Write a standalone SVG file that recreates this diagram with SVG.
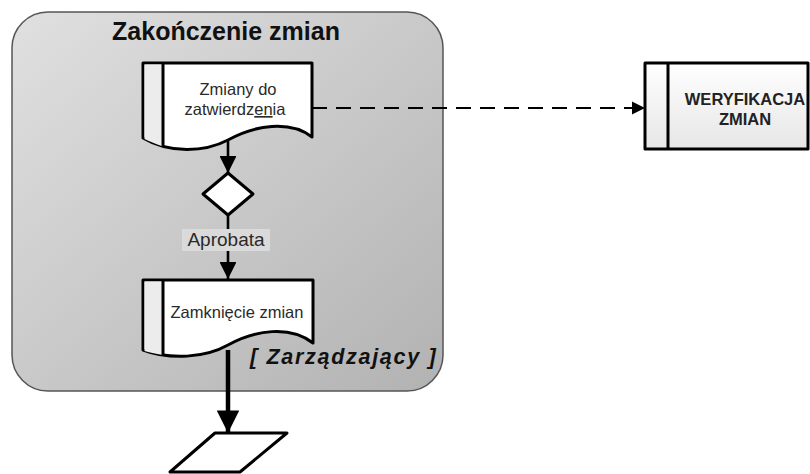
<svg xmlns="http://www.w3.org/2000/svg" width="810" height="474" viewBox="0 0 810 474">
  <defs>
    <linearGradient id="laneFill" x1="0" y1="0" x2="1" y2="1">
      <stop offset="0" stop-color="#e0e0e0"/>
      <stop offset="1" stop-color="#b2b2b2"/>
    </linearGradient>
    <linearGradient id="boxFill" x1="0" y1="0" x2="0" y2="1">
      <stop offset="0" stop-color="#ffffff"/>
      <stop offset="1" stop-color="#e6e6e6"/>
    </linearGradient>
    <marker id="arrow" viewBox="0 0 10 10" refX="10" refY="5" markerWidth="7" markerHeight="6.5" markerUnits="strokeWidth" orient="auto">
      <path d="M0,0 L10,5 L0,10 Z" fill="#000"/>
    </marker>
    <marker id="arrowWide" viewBox="0 0 10 10" refX="10" refY="5" markerWidth="5.4" markerHeight="5" markerUnits="strokeWidth" orient="auto">
      <path d="M0,0 L10,5 L0,10 Z" fill="#000"/>
    </marker>
    <marker id="arrowDash" viewBox="0 0 10 10" refX="10" refY="5" markerWidth="6.5" markerHeight="7.5" markerUnits="strokeWidth" orient="auto">
      <path d="M0,0 L10,5 L0,10 Z" fill="#000"/>
    </marker>
  </defs>
  <style>
    .shape { stroke: #000; stroke-width: 3; stroke-linejoin: round; }
    .doc { fill: #ffffff; }
    .stripe { fill: #ececec; }
    .txt { font-family: "Liberation Sans", Arial, sans-serif; fill: #2a2a2a; }
    .conn { stroke: #000; fill: none; }
  </style>

  <!-- swimlane container -->
  <g id="lane">
    <rect x="12" y="12" width="431" height="379" rx="36" ry="36" fill="url(#laneFill)" stroke="#555" stroke-width="1.5"/>
    <text class="txt" x="226" y="40" font-size="25" font-weight="bold" text-anchor="middle" style="fill:#111">Zakończenie zmian</text>
    <text class="txt" x="250" y="364" font-size="21.5" font-weight="bold" font-style="italic" letter-spacing="1.7" style="fill:#111">[ Zarządzający ]</text>
  </g>

  <!-- connectors -->
  <g id="connectors">
    <line class="conn" x1="228" y1="141" x2="228" y2="173" stroke-width="2.6" marker-end="url(#arrow)"/>
    <line class="conn" x1="228" y1="215" x2="228" y2="279" stroke-width="2.6" marker-end="url(#arrow)"/>
    <line class="conn" x1="228" y1="350" x2="228" y2="433" stroke-width="4.5" marker-end="url(#arrowWide)"/>
    <line class="conn" x1="312" y1="108" x2="645" y2="108" stroke-width="2" stroke-dasharray="15 9" marker-end="url(#arrowDash)"/>
    <!-- decision label -->
    <rect x="182" y="229" width="88" height="22" fill="#dadada"/>
    <text class="txt" x="226" y="246" font-size="19" text-anchor="middle">Aprobata</text>
  </g>

  <!-- document: Zmiany do zatwierdzenia -->
  <g id="doc-zmiany">
    <path class="shape doc" d="M143,63 H312 V137 C290,120 255,125 228,140 C205,152 170,154 143,138 Z"/>
    <path class="stripe" d="M144.5,64.5 H163 V146.5 C155,144 149,141 144.5,139 Z"/>
    <line x1="163" y1="63" x2="163" y2="147" stroke="#000" stroke-width="3"/>
    <text class="txt" x="238" y="95" font-size="16.5" text-anchor="middle">Zmiany do</text>
    <text class="txt" x="235" y="115" font-size="16.5" text-anchor="middle">zatwierdz<tspan text-decoration="underline">en</tspan>ia</text>
  </g>

  <!-- decision -->
  <g id="decision">
    <path class="shape" d="M228,173 L253,194 L228,215 L203,194 Z" fill="#fff"/>
  </g>

  <!-- document: Zamknięcie zmian -->
  <g id="doc-zamkniecie">
    <path class="shape doc" d="M143,280 H313 V343 C290,325 255,330 228,345 C205,358 170,360 143,350 Z"/>
    <path class="stripe" d="M144.5,281.5 H163 V355 C155,354 149,352 144.5,351 Z"/>
    <line x1="163" y1="280" x2="163" y2="355" stroke="#000" stroke-width="3"/>
    <text class="txt" x="237" y="318" font-size="16.5" text-anchor="middle">Zamknięcie zmian</text>
  </g>

  <!-- data (parallelogram) -->
  <g id="data">
    <path class="shape" d="M215,433 H287 L240,472 H170 Z" fill="#fff"/>
  </g>

  <!-- external process -->
  <g id="weryfikacja">
    <rect class="shape" x="645" y="63" width="163" height="86" fill="url(#boxFill)"/>
    <line x1="668" y1="63" x2="668" y2="149" stroke="#000" stroke-width="3"/>
    <text class="txt" x="745" y="105" font-size="16.5" font-weight="bold" text-anchor="middle" style="fill:#222">WERYFIKACJA</text>
    <text class="txt" x="745" y="125" font-size="16.5" font-weight="bold" text-anchor="middle" style="fill:#222">ZMIAN</text>
  </g>
</svg>
